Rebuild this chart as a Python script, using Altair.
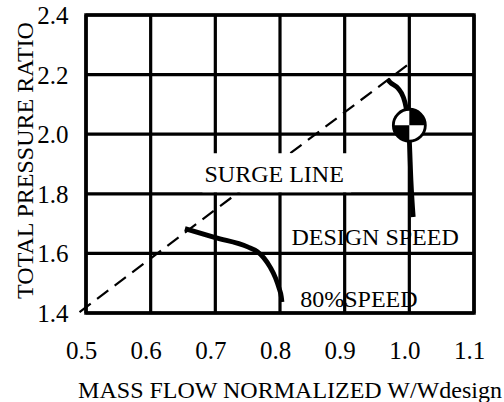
import math
import altair as alt
import pandas as pd

# ---- data ----
x_ticks = [0.5, 0.6, 0.7, 0.8, 0.9, 1.0, 1.1]
y_ticks = [1.4, 1.6, 1.8, 2.0, 2.2, 2.4]

surge_x = [0.49, 1.003]
surge_y = [1.403, 2.242]

design_x = [0.9665, 0.970, 0.983, 0.9906, 0.9948, 0.998, 1.000, 1.0025, 1.006]
design_y = [2.184, 2.175, 2.153, 2.125, 2.091, 2.037, 1.980, 1.845, 1.722]

speed80_x = [0.653, 0.700, 0.750, 0.765, 0.775, 0.785, 0.793, 0.799, 0.802, 0.803]
speed80_y = [1.683, 1.653, 1.622, 1.606, 1.585, 1.553, 1.518, 1.480, 1.455, 1.437]

design_point_x = [1.0]
design_point_y = [2.03]

label_text = ["SURGE LINE", "DESIGN SPEED", "80%SPEED"]
label_x = [0.791, 0.947, 0.922]
label_y = [1.840, 1.627, 1.420]

box_x1 = [0.68]
box_x2 = [0.91]
box_y1 = [1.805]
box_y2 = [1.936]

FONT = "Liberation Serif"

xscale = alt.Scale(domain=[0.5, 1.1], nice=False, zero=False)
yscale = alt.Scale(domain=[1.4, 2.4], nice=False, zero=False)

common = dict(grid=False, ticks=False, domain=False, labelColor="#000000", titleColor="#000000",
              labelFont=FONT, titleFont=FONT, labelFontSize=25, titleFontSize=24,
              titleFontWeight="normal", labelFlush=False, format=".1f")

xaxis = alt.Axis(values=x_ticks, labelPadding=45, labelBaseline="alphabetic", labelOffset=-5,
                 titleX=203.5, titleY=84, titleBaseline="alphabetic", titleAlign="center",
                 **common)
yaxis = alt.Axis(values=y_ticks, labelPadding=18, labelBaseline="alphabetic", labelOffset=8.5,
                 titleAngle=270, titleX=-54, titleY=145, titleBaseline="alphabetic",
                 titleAlign="center", **common)


def X(f):
    return alt.X(f, type="quantitative", scale=xscale, axis=xaxis,
                 title="MASS FLOW NORMALIZED W/Wdesign")


def Y(f):
    return alt.Y(f, type="quantitative", scale=yscale, axis=yaxis,
                 title="TOTAL PRESSURE RATIO")


xg = pd.DataFrame({"x": x_ticks})
yg = pd.DataFrame({"y": y_ticks})
surge = pd.DataFrame({"x": surge_x, "y": surge_y, "i": range(len(surge_x))})
design = pd.DataFrame({"x": design_x, "y": design_y, "i": range(len(design_x))})
s80 = pd.DataFrame({"x": speed80_x, "y": speed80_y, "i": range(len(speed80_x))})
pt = pd.DataFrame({"x": design_point_x, "y": design_point_y})
labels = pd.DataFrame({"t": label_text, "x": label_x, "y": label_y})
box = pd.DataFrame({"x1": box_x1, "x2": box_x2, "y1": box_y1, "y2": box_y2})

xgrid = alt.Chart(xg).mark_rule(color="black", strokeWidth=3.2).encode(x=X("x"))
ygrid = alt.Chart(yg).mark_rule(color="black", strokeWidth=3.2).encode(y=Y("y"))

surge_line = alt.Chart(surge).mark_line(color="black", strokeWidth=2.2, strokeDash=[14, 8]).encode(
    x=X("x"), y=Y("y"), order="i:Q")

white_box = alt.Chart(box).mark_rect(fill="white", opacity=1, fillOpacity=1).encode(
    x=X("x1"), x2=alt.X2("x2"), y=Y("y1"), y2=alt.Y2("y2"))

design_line = alt.Chart(design).mark_line(color="black", strokeWidth=4.8, interpolate="monotone").encode(
    x=X("x"), y=Y("y"), order="i:Q")

s80_line = alt.Chart(s80).mark_line(color="black", strokeWidth=4.8, interpolate="monotone").encode(
    x=X("x"), y=Y("y"), order="i:Q")

pt_fill = alt.Chart(pt).mark_point(shape="circle", size=1024, filled=True, fill="white",
                                   opacity=1).encode(x=X("x"), y=Y("y"))
q1 = alt.Chart(pt).mark_arc(theta=0, theta2=math.pi / 2, radius=16, color="black").encode(
    x=X("x"), y=Y("y"))
q3 = alt.Chart(pt).mark_arc(theta=math.pi, theta2=3 * math.pi / 2, radius=16, color="black").encode(
    x=X("x"), y=Y("y"))
pt_outline = alt.Chart(pt).mark_point(shape="circle", size=1024, filled=False, stroke="black",
                                      strokeWidth=2.8, opacity=1).encode(x=X("x"), y=Y("y"))

texts = alt.Chart(labels).mark_text(font=FONT, fontSize=24, color="black", align="center",
                                    baseline="alphabetic").encode(x=X("x"), y=Y("y"), text="t:N")

chart = alt.layer(xgrid, ygrid, surge_line, white_box, design_line, s80_line, pt_fill, q1, q3,
                  pt_outline, texts).properties(
    width=388, height=298,
    autosize=alt.AutoSizeParams(type="none"),
    padding={"left": 86, "top": 15, "right": 30, "bottom": 89},
).configure_view(stroke="black", strokeWidth=3.5)

chart.save("out.html", embed_options={"renderer": "svg", "actions": False})
